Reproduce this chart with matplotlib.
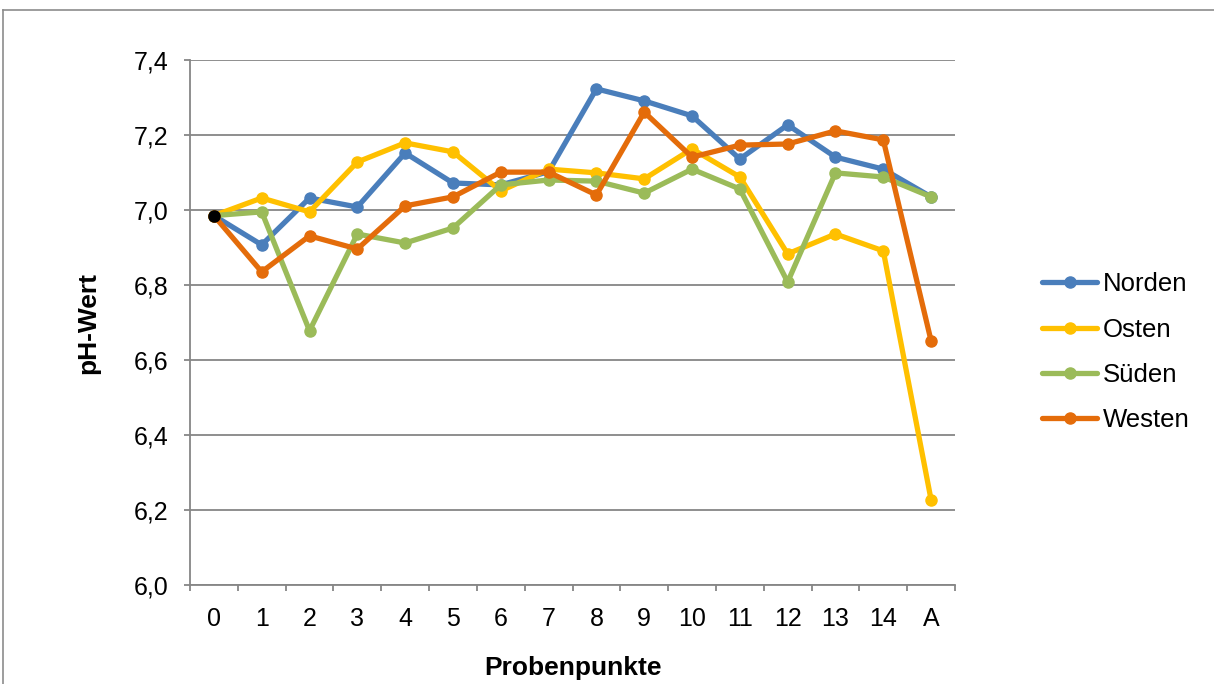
import matplotlib
matplotlib.use("Agg")
import matplotlib.pyplot as plt
from matplotlib.ticker import FuncFormatter, FixedLocator, NullFormatter
from matplotlib.lines import Line2D

plt.rcParams["font.family"] = ["Liberation Sans", "DejaVu Sans"]

# Probenpunkte (Kategorien)
categories = ["0", "1", "2", "3", "4", "5", "6", "7", "8", "9", "10", "11", "12", "13", "14", "A"]

# pH-Werte je Himmelsrichtung
norden = [6.985, 6.907, 7.032, 7.008, 7.152, 7.072, 7.067, 7.102, 7.323, 7.291, 7.251, 7.136, 7.227, 7.141, 7.109, 7.035]
osten = [6.985, 7.032, 6.995, 7.128, 7.179, 7.155, 7.051, 7.109, 7.099, 7.083, 7.163, 7.088, 6.883, 6.936, 6.891, 6.227]
sueden = [6.985, 6.995, 6.678, 6.936, 6.912, 6.952, 7.067, 7.080, 7.077, 7.045, 7.109, 7.056, 6.808, 7.099, 7.088, 7.035]
westen = [6.985, 6.835, 6.931, 6.896, 7.011, 7.035, 7.101, 7.101, 7.040, 7.261, 7.141, 7.173, 7.176, 7.211, 7.187, 6.651]

series = [
    ("Norden", norden, "#4A7EBB"),
    ("Osten", osten, "#FFC000"),
    ("Süden", sueden, "#9BBB59"),
    ("Westen", westen, "#E46C0A"),
]

fig = plt.figure(figsize=(12.14, 6.84), dpi=100)
ax = fig.add_axes([190 / 1214, 1 - 585 / 684, 765 / 1214, 525 / 684])

x = list(range(len(categories)))
for name, vals, color in series:
    ax.plot(x, vals, color=color, linewidth=3.8, marker="o", markersize=8,
            label=name, solid_capstyle="round", solid_joinstyle="round")

# schwarzer Startpunkt
ax.plot([x[0]], [norden[0]], marker="o", color="black", markersize=8, linestyle="none", zorder=5)

ax.set_xlim(-0.5, len(categories) - 0.5)
ax.set_ylim(6.0, 7.4)
ax.set_yticks([6.0, 6.2, 6.4, 6.6, 6.8, 7.0, 7.2, 7.4])
ax.yaxis.set_major_formatter(FuncFormatter(lambda v, p: f"{v:.1f}".replace(".", ",")))
ax.yaxis.grid(True, color="#868686", linewidth=1.3)
ax.set_axisbelow(True)

# Kategorien: Striche zwischen den Punkten, Beschriftung mittig
ax.xaxis.set_major_locator(FixedLocator([i - 0.5 for i in range(len(categories) + 1)]))
ax.xaxis.set_major_formatter(NullFormatter())
ax.xaxis.set_minor_locator(FixedLocator(x))
ax.set_xticklabels(categories, minor=True)
ax.tick_params(axis="x", which="minor", length=0, labelsize=18, pad=16)
ax.tick_params(axis="x", which="major", length=4.5, width=1.3, color="#868686")
ax.tick_params(axis="y", length=4.5, width=1.3, color="#868686", labelsize=18, pad=11)

for side in ["top", "right"]:
    ax.spines[side].set_visible(False)
for side in ["left", "bottom"]:
    ax.spines[side].set_color("#868686")
    ax.spines[side].set_linewidth(1.3)

ax.set_ylabel("pH-Wert", fontsize=19, fontweight="bold", labelpad=24)
ax.set_xlabel("Probenpunkte", fontsize=19, fontweight="bold", labelpad=18)

ax.legend(loc="center left", bbox_to_anchor=(1.114, 0.443), frameon=False, fontsize=18.5,
          handlelength=2.15, handletextpad=0.2, labelspacing=0.83,
          borderpad=0, borderaxespad=0)

# äußerer Rahmen
fig.add_artist(Line2D([3 / 1214, 3 / 1214], [0, 1 - 10 / 684], color="#8c8c8c", linewidth=1.2))
fig.add_artist(Line2D([3 / 1214, 1], [1 - 10 / 684, 1 - 10 / 684], color="#8c8c8c", linewidth=1.2))

fig.savefig("out.png", dpi=100)
